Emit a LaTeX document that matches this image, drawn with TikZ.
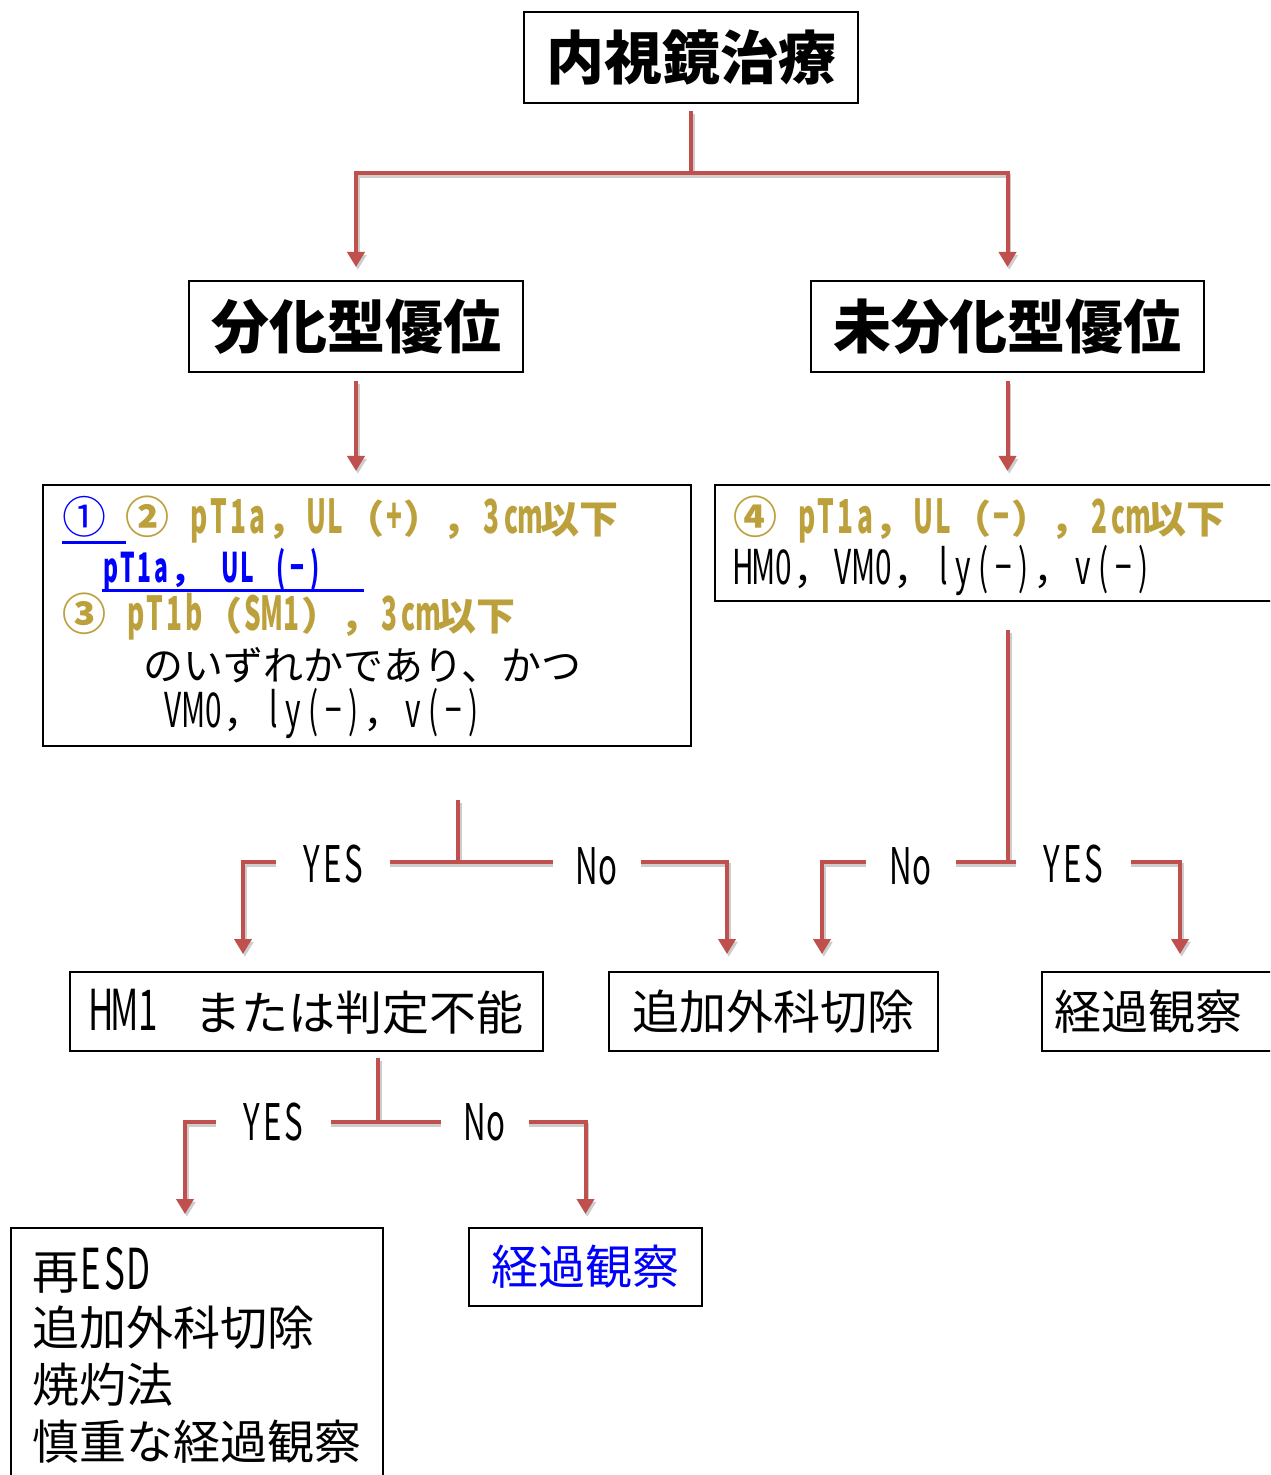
\documentclass[tikz,border=0pt]{standalone}
\usepackage{fontspec}
\setmainfont{Noto Sans CJK JP}
\newfontfamily\hwfont[Scale=1.2,FakeStretch=0.62,BoldFeatures={FakeStretch=0.56}]{Noto Sans CJK JP}
\usetikzlibrary{arrows.meta,calc}
\definecolor{arrred}{RGB}{192,80,77}
\definecolor{gold}{RGB}{188,160,60}
\definecolor{shad}{RGB}{205,205,205}
\makeatletter
\def\HW@end{\HW@end}
\newcommand\HW[1]{\HW@i#1\HW@end}
\def\HW@i#1{\ifx#1\HW@end\else\makebox[0.5em]{\hwfont #1}\expandafter\HW@i\fi}
\makeatother
\newcommand{\circn}[1]{{\fontsize{22}{20}\selectfont #1}}
\newcommand{\hs}{\hspace{0.5em}}
\newcommand{\myul}[1]{\setbox0\hbox{#1}\rlap{\rule[-0.28em]{\wd0}{1.4pt}}\box0}
\tikzset{
  box/.style={draw=black, line width=1pt, inner sep=0pt},
  conn/.style={draw=arrred, line width=2pt, -{Triangle[width=8.5pt,length=7.5pt]},
    preaction={draw=shad, line width=2pt, -{Triangle[width=8.5pt,length=7.5pt]}, transform canvas={shift={(0.9pt,-1.4pt)}}}},
  lab/.style={fill=white, inner sep=0pt, minimum height=20pt, font=\fontsize{21}{24}\selectfont},
  big/.style={font=\fontsize{29}{32}\selectfont\bfseries},
  mid/.style={font=\fontsize{23.5}{26}\selectfont},
  txt/.style={anchor=west, inner sep=0pt},
  goldtxt/.style={txt, font=\fontsize{19.5}{22}\selectfont\bfseries, text=gold},
  blk/.style={txt, font=\fontsize{20}{22}\selectfont},
}
\begin{document}
\begin{tikzpicture}[x=0.5pt,y=-0.5pt]
\useasboundingbox (0,0) rectangle (1270,1475);
\clip (0,0) rectangle (1270,1475);
% boxes
\node[box,big,minimum width=167pt,minimum height=45.5pt] (title) at (691,57.5) {内視鏡治療};
\node[box,big,minimum width=167pt,minimum height=45.5pt] (bunka) at (356,326.5) {分化型優位};
\node[box,big,minimum width=196.5pt,minimum height=45.5pt] (mibunka) at (1007.5,326.5) {未分化型優位};
\node[box,minimum width=324pt,minimum height=130.5pt] (lbox) at (367,615.5) {};
\node[box,minimum width=287.5pt,minimum height=58pt] (rbox) at (1002.5,543) {};
\node[box,mid,minimum width=236.5pt,minimum height=39.5pt] (hm1) at (306.5,1011.5) {\HW{HM1}\hspace{0.75em}または判定不能};
\node[box,mid,minimum width=164.5pt,minimum height=39.5pt] (tsuika) at (773.5,1011.5) {追加外科切除};
\node[box,mid,minimum width=124pt,minimum height=39.5pt,text width=112pt] (keika1) at (1166,1011.5) {経過観察};
\node[box,minimum width=186pt,minimum height=131pt] (rebox) at (197,1359) {};
\node[box,mid,minimum width=116.5pt,minimum height=39pt,text=blue] (keika2) at (585.5,1267) {経過観察};
% texts in left box
\node[goldtxt] (l1) at (62,520)
  {\textcolor{blue}{\myul{{\mdseries\circn{①}}\hs}}\circn{②}\hs\HW{pT1a}，\HW{UL}（\HW{+}），\HW{3cm}以下};
\node[txt,font=\fontsize{17}{20}\selectfont\bfseries,text=blue] (l2) at (102,570)
  {\myul{\HW{pT1a}，\hs\HW{UL}\hs\HW{(−)}\hspace{1.2em}}};
\node[goldtxt] (l3) at (62,617)
  {\circn{③}\hs\HW{pT1b}（\HW{SM1}），\HW{3cm}以下};
\node[blk] (l4) at (143,665) {のいずれかであり、かつ};
\node[blk] (l5) at (163,713) {\HW{VM0}，\HW{ly(−)}，\HW{v(−)}};
% texts in right box
\node[goldtxt] (r1) at (733,520)
  {\circn{④}\hs\HW{pT1a}，\HW{UL}（\HW{−}），\HW{2cm}以下};
\node[blk] (r2) at (733,570) {\HW{HM0}，\HW{VM0}，\HW{ly(−)}，\HW{v(−)}};
% texts in bottom-left box
\node[txt,font=\fontsize{23.5}{26}\selectfont] (b1) at (32,1270) {再\HW{ESD}};
\node[txt,font=\fontsize{23.5}{26}\selectfont] (b2) at (32,1328) {追加外科切除};
\node[txt,font=\fontsize{23.5}{26}\selectfont] (b3) at (32,1385) {焼灼法};
\node[txt,font=\fontsize{23.5}{26}\selectfont] (b4) at (32,1442) {慎重な経過観察};
% coordinates
\coordinate (s1) at (458,800);
\coordinate (s2) at (1008,630);
\coordinate (s3) at (378,1058);
% connectors
\draw[conn,shorten <=3.5pt,shorten >=6.5pt] (title.south) -- ++(0,69) -| (bunka.north);
\draw[conn,shorten <=3.5pt,shorten >=6.5pt] (title.south) -- ++(0,69) -| (mibunka.north);
\draw[conn,shorten <=4pt,shorten >=6.5pt] (bunka.south) -- (bunka.south |- lbox.north);
\draw[conn,shorten <=4pt,shorten >=6.5pt] (mibunka.south) -- (mibunka.south |- rbox.north);
\draw[conn,shorten >=8.5pt] (s1) -- ++(0,62) -| ($(hm1.north)+(-63.5,0)$);
\draw[conn,shorten >=8.5pt] (s1) -- ++(0,62) -| ($(tsuika.north)+(-46.5,0)$);
\draw[conn,shorten >=8.5pt] (s2) -- ++(0,232) -| ($(tsuika.north)+(48.5,0)$);
\draw[conn,shorten >=8.5pt] (s2) -- ++(0,232) -| ($(keika1.north)+(14,0)$);
\draw[conn,shorten >=6.5pt] (s3) -- ++(0,64) -| ($(rebox.north)+(-12,0)$);
\draw[conn,shorten >=6.5pt] (s3) -- ++(0,64) -| (keika2.north);
% labels
\node[lab,minimum width=57pt] (y1) at (333,864) {\HW{YES}};
\node[lab,minimum width=44pt] (n1) at (597,866) {\HW{No}};
\node[lab,minimum width=45pt] (n2) at (911,866) {\HW{No}};
\node[lab,minimum width=57.5pt] (y2) at (1073,864) {\HW{YES}};
\node[lab,minimum width=57.5pt] (y3) at (273,1122) {\HW{YES}};
\node[lab,minimum width=44pt] (n3) at (485,1122) {\HW{No}};
\end{tikzpicture}
\end{document}
